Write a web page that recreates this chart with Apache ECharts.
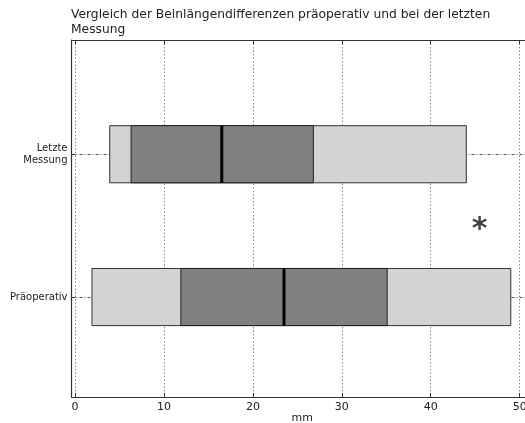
<!DOCTYPE html>
<html>
<head>
<meta charset="utf-8">
<script src="https://cdn.jsdelivr.net/npm/echarts@6/dist/echarts.min.js"></script>
<style>html,body{margin:0;padding:0;background:#fff;}#c{width:525px;height:423px;}</style>
</head>
<body>
<div id="c"></div>
<script>
const categories = ['Präoperativ', 'Letzte Messung'];
const categoryLabels = ['Präoperativ', 'Letzte\nMessung'];
const yPositions = [1, 2];
const minVals = [1.9, 3.9];
const q1Vals = [11.9, 6.3];
const medianVals = [23.5, 16.5];
const q3Vals = [35.1, 26.8];
const maxVals = [49.0, 44.0];
const xTicks = [0, 10, 20, 30, 40, 50];
const markerText = '*';
const markerX = [45.5];
const markerY = [1.5];
const titleText = 'Vergleich der Beinlängendifferenzen präoperativ und bei der letzten\nMessung';
const xName = 'mm';

const boxData = yPositions.map((y, i) => [y, minVals[i], q1Vals[i], medianVals[i], q3Vals[i], maxVals[i]]);
const FONT = 'DejaVu Sans';
const spine = {show: true, onZero: false, lineStyle: {color: '#333', width: 1.2}};

const chart = echarts.init(document.getElementById('c'), null, {renderer: 'canvas'});
chart.setOption({
  animation: false,
  backgroundColor: '#fff',
  textStyle: {fontFamily: FONT},
  title: {
    text: titleText, left: 71, top: 8, padding: 0,
    textStyle: {fontFamily: FONT, fontSize: 12.3, fontWeight: 'normal', color: '#222', lineHeight: 14.5}
  },
  grid: {left: 71.5, top: 40, right: -8, bottom: 26, outerBoundsMode: 'none', containLabel: false, show: false},
  xAxis: [{
    type: 'value', min: -0.4, max: 51.5, position: 'bottom',
    name: xName, nameLocation: 'middle', nameGap: 16, nameMoveOverlap: false,
    nameTextStyle: {fontFamily: FONT, fontSize: 11, color: '#222'},
    axisLine: spine,
    axisTick: {show: true, inside: true, length: 4, customValues: xTicks, lineStyle: {color: '#333'}},
    axisLabel: {customValues: xTicks, fontFamily: FONT, fontSize: 11, color: '#222', margin: 5},
    splitLine: {show: true, lineStyle: {color: '#888', type: [1.5, 2], width: 1}}
  }, {
    type: 'value', min: -0.4, max: 51.5, position: 'top',
    axisLine: spine,
    axisTick: {show: true, inside: true, length: 4, customValues: xTicks, lineStyle: {color: '#333'}},
    axisLabel: {show: false},
    splitLine: {show: false}
  }],
  yAxis: {
    type: 'value', min: 0.3, max: 2.8,
    axisLine: spine,
    axisTick: {show: true, inside: true, length: 4, customValues: yPositions, lineStyle: {color: '#333'}},
    axisLabel: {
      customValues: yPositions, fontFamily: FONT, fontSize: 10, color: '#222', lineHeight: 12, margin: 4, align: 'right',
      formatter: v => { const i = yPositions.indexOf(v); return i >= 0 ? categoryLabels[i] : ''; }
    },
    splitLine: {show: true, lineStyle: {color: '#555', type: [3, 2, 1, 2], width: 1}}
  },
  series: [{
    type: 'custom',
    xAxisIndex: 0,
    data: boxData,
    encode: {x: [1, 2, 3, 4, 5], y: 0},
    renderItem: function (params, api) {
      const y = api.value(0);
      const pMin = api.coord([api.value(1), y]);
      const pQ1 = api.coord([api.value(2), y]);
      const pMed = api.coord([api.value(3), y]);
      const pQ3 = api.coord([api.value(4), y]);
      const pMax = api.coord([api.value(5), y]);
      const h = api.size([0, 0.4])[1];
      const top = pMin[1] - h / 2;
      return {
        type: 'group',
        children: [
          {type: 'rect', shape: {x: pMin[0], y: top, width: pMax[0] - pMin[0], height: h},
           style: {fill: '#d3d3d3', stroke: '#333', lineWidth: 1}},
          {type: 'rect', shape: {x: pQ1[0], y: top, width: pQ3[0] - pQ1[0], height: h},
           style: {fill: '#808080', stroke: '#222', lineWidth: 1}},
          {type: 'line', shape: {x1: pMed[0], y1: top, x2: pMed[0], y2: top + h},
           style: {stroke: '#000', lineWidth: 3}}
        ]
      };
    }
  }, {
    type: 'scatter',
    xAxisIndex: 0,
    data: markerX.map((x, i) => [x, markerY[i]]),
    symbolSize: 1,
    itemStyle: {color: 'transparent'},
    label: {show: true, position: 'inside', offset: [0, 5], formatter: () => markerText, fontFamily: FONT, fontSize: 30, fontWeight: 'bold', color: '#111'}
  }]
});
</script>
</body>
</html>
